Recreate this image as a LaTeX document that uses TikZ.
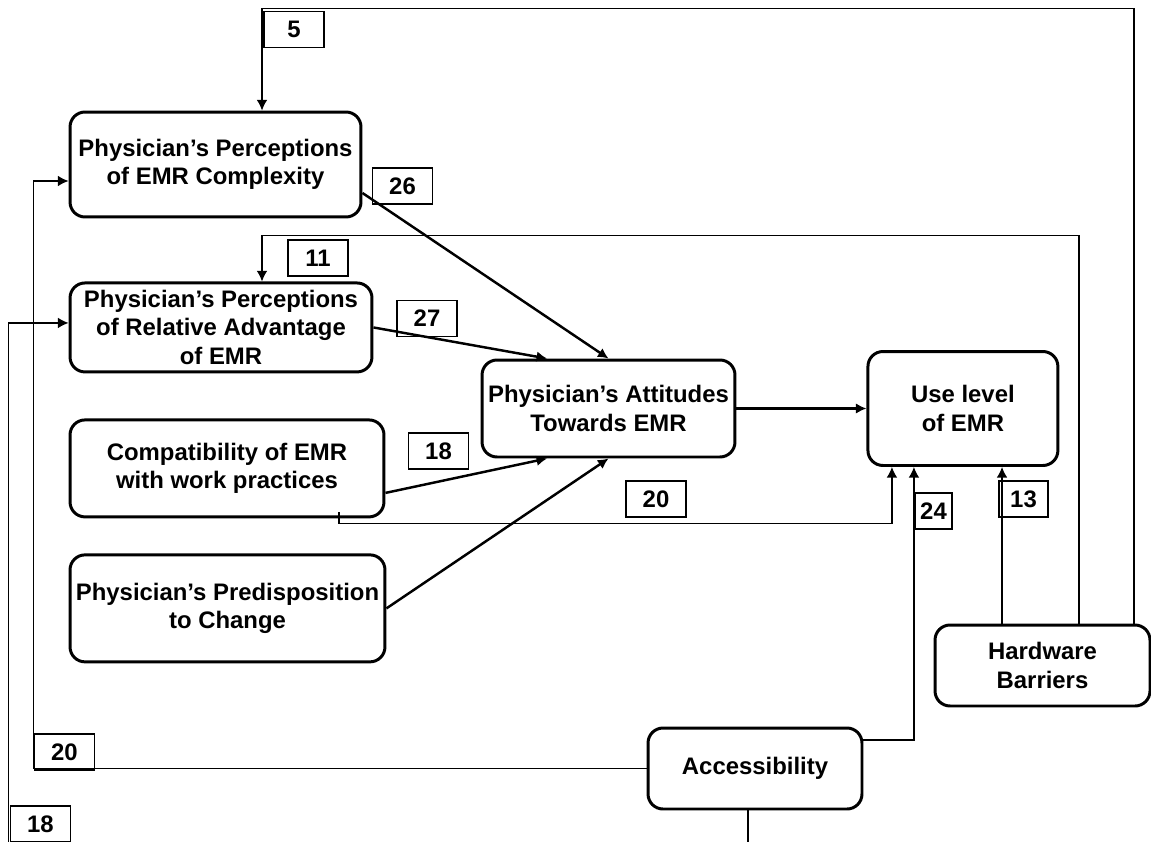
\documentclass[tikz,border=0pt]{standalone}
\usepackage{fontspec}
\setmainfont{Liberation Sans}
\usepackage{tikz}
\usetikzlibrary{positioning, calc}
\usetikzlibrary{arrows.meta}

\begin{document}
\begin{tikzpicture}
    [x=0.02cm, y=-0.02cm,
    post/.style={->,draw,>={Latex[length=6pt,width=6pt]}, line width=1.4pt},
    fb/.style={->,draw,>={Latex[length=6pt,width=6pt]}, line width=0.7pt},
    ob/.style={rectangle, draw, line width=1.7pt, inner sep=1pt, rounded corners=3mm, align=center, font=\bfseries\fontsize{13.6}{16}\selectfont},
    num/.style={rectangle, draw, line width=0.6pt, inner sep=1pt, minimum width=1.2cm, minimum height=0.72cm, font=\bfseries\fontsize{13.6}{16}\selectfont}]
    \useasboundingbox (0,0) rectangle (1151,841);
    \clip (0,0) rectangle (1151,841);
    \node [ob, minimum width=5.82cm, minimum height=2.1cm] (PC) at (215.5,164.5) {Physician's Perceptions\\of EMR Complexity};
    \node [ob, minimum width=6.04cm, minimum height=1.78cm, below right=1.26cm and 0cm of PC.south west] (PR) {Physician's Perceptions\\of Relative Advantage\\of EMR};
    \node [ob, minimum width=6.28cm, minimum height=1.94cm, below right=0.9cm and 0cm of PR.south west] (CO) {Compatibility of EMR\\with work practices};
    \node [ob, minimum width=6.3cm, minimum height=2.14cm, below right=0.7cm and 0cm of CO.south west] (PD) {Physician's Predisposition\\to Change};
    \node [ob, minimum width=5.06cm, minimum height=1.94cm] (AT) at (608.5,408.5) {Physician's Attitudes\\Towards EMR};
    \node [ob, minimum width=3.8cm, minimum height=2.28cm, right=2.6cm of AT] (UL) {Use level\\of EMR};
    \node [ob, minimum width=4.3cm, minimum height=1.62cm] (HB) at (1042.5,665.5) {Hardware\\Barriers};
    \node [ob, minimum width=4.28cm, minimum height=1.62cm] (AC) at (755,768.5) {Accessibility};
    % into attitudes and use
    \draw[post] ([yshift=-0.57cm]PC.east) -- (AT.north);
    \draw[post] (PR.east) -- ($(AT.north west)!0.26!(AT.north east)$);
    \draw[post] ([yshift=-0.49cm]CO.east) -- ($(AT.south west)!0.26!(AT.south east)$);
    \draw[post] (PD.east) -- (AT.south);
    \draw[post] (AT) -- (UL);
    % barriers and access
    \draw[fb] ([shift={(-40.5,0)}]HB.north) coordinate (h13) -- (h13 |- UL.south);
    \draw[fb] ([shift={(36.5,0)}]HB.north) |- ([shift={(41,-46)}]PR.north) -- ([shift={(41,0)}]PR.north);
    \draw[fb] ([shift={(91.5,0)}]HB.north) |- ([shift={(46.5,-102)}]PC.north) -- ([shift={(46.5,0)}]PC.north);
    \draw[fb] ([shift={(112,-6)}]CO.south) -- ++(0,11) -| ([shift={(-71,0)}]UL.south);
    \draw[fb] ([shift={(0,-28.5)}]AC.east) -| ([shift={(-49,0)}]UL.south);
    \draw[fb] (AC.west) -| ([shift={(-35,16.5)}]PC.west) -- ([shift={(0,16.5)}]PC.west);
    \draw[fb] ([shift={(-7,0)}]AC.south) -- ++(0,40) -| ([shift={(-60,-4.5)}]PR.west) -- ([shift={(0,-4.5)}]PR.west);
    \node [num] (n5) at (294,29.5) {5};
    \node [num] (n26) at (402.5,186) {26};
    \node [num] (n11) at (318,258) {11};
    \node [num] (n27) at (427,318.5) {27};
    \node [num] (n18a) at (438.5,451) {18};
    \node [num] (n20a) at (656,499) {20};
    \node [num, minimum width=0.74cm] (n24) at (933.5,511) {24};
    \node [num, minimum width=0.98cm] (n13) at (1023.5,499) {13};
    \node [num] (n20b) at (64.5,752) {20};
    \node [num] (n18b) at (40.5,824) {18};
\end{tikzpicture}
\end{document}
